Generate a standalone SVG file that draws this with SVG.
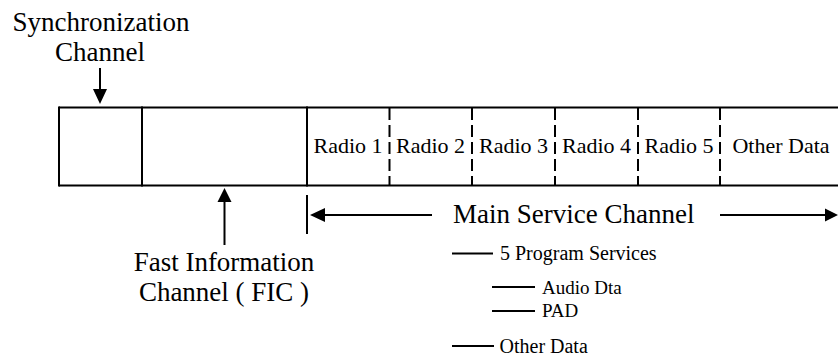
<svg xmlns="http://www.w3.org/2000/svg" width="838" height="358" viewBox="0 0 838 358" font-family="'Liberation Serif', 'Times New Roman', 'DejaVu Serif', serif">
  <style>
    .ln { stroke: #000; stroke-width: 2; fill: none; }
    .dash { stroke: #000; stroke-width: 2; fill: none; stroke-dasharray: 12 5; }
    .thin { stroke: #000; stroke-width: 1.8; fill: none; }
    .head { fill: #000; stroke: none; }
    .big { font-size: 27px; }
    .mid { font-size: 22px; text-anchor: middle; }
    .sm { font-size: 20px; }
    .xs { font-size: 19px; }
    .c { text-anchor: middle; }
  </style>

  <!-- Transmission frame -->
  <g id="frame">
    <line class="ln" x1="59" y1="107.5" x2="838" y2="107.5"/>
    <line class="ln" x1="59" y1="185.5" x2="838" y2="185.5"/>
    <line class="ln" x1="59" y1="106.5" x2="59" y2="186.5"/>
    <line class="ln" x1="142" y1="106.5" x2="142" y2="186.5"/>
    <line class="ln" x1="307" y1="106.5" x2="307" y2="186.5"/>
    <line class="dash" x1="389.5" y1="108" x2="389.5" y2="185"/>
    <line class="dash" x1="472" y1="108" x2="472" y2="185"/>
    <line class="dash" x1="555" y1="108" x2="555" y2="185"/>
    <line class="dash" x1="638" y1="108" x2="638" y2="185"/>
    <line class="dash" x1="720" y1="108" x2="720" y2="185"/>
  </g>

  <g id="radio1"><text class="mid" x="348" y="153">Radio 1</text></g>
  <g id="radio2"><text class="mid" x="430.5" y="153">Radio 2</text></g>
  <g id="radio3"><text class="mid" x="513.5" y="153">Radio 3</text></g>
  <g id="radio4"><text class="mid" x="596.5" y="153">Radio 4</text></g>
  <g id="radio5"><text class="mid" x="679" y="153">Radio 5</text></g>
  <g id="other-data-cell"><text class="mid" x="781" y="153">Other Data</text></g>

  <!-- Labels -->
  <g id="sync-label">
    <text class="big c" x="101" y="31">Synchronization</text>
    <text class="big c" x="100" y="61">Channel</text>
  </g>
  <g id="fic-label">
    <text class="big c" x="224" y="271">Fast Information</text>
    <text class="big c" x="224" y="301">Channel ( FIC )</text>
  </g>
  <g id="msc-label">
    <text class="big" x="453" y="223">Main Service Channel</text>
  </g>

  <!-- Service breakdown list -->
  <g id="services">
    <line class="thin" x1="452" y1="253.5" x2="493" y2="253.5"/>
    <text class="sm" x="500" y="260">5 Program Services</text>
    <line class="thin" x1="492" y1="287" x2="535" y2="287"/>
    <text class="xs" x="542" y="293.5">Audio Dta</text>
    <line class="thin" x1="492" y1="311" x2="535" y2="311"/>
    <text class="xs" x="542" y="317">PAD</text>
    <line class="thin" x1="452" y1="346" x2="494" y2="346"/>
    <text class="sm" x="499.5" y="352.5">Other Data</text>
  </g>

  <!-- Connectors -->
  <g id="connectors">
    <line class="ln" x1="100" y1="68" x2="100" y2="92"/>
    <polygon class="head" points="93,89 107,89 100,104"/>

    <line class="ln" x1="224.5" y1="245" x2="224.5" y2="200"/>
    <polygon class="head" points="217.5,202 231.5,202 224.5,188"/>

    <line class="ln" x1="307" y1="195" x2="307" y2="234"/>
    <line class="ln" x1="322" y1="215" x2="432" y2="215"/>
    <polygon class="head" points="310,215 325,208 325,222"/>

    <line class="ln" x1="720" y1="215" x2="828" y2="215"/>
    <polygon class="head" points="838,215 825,208.5 825,221.5"/>
  </g>
</svg>
